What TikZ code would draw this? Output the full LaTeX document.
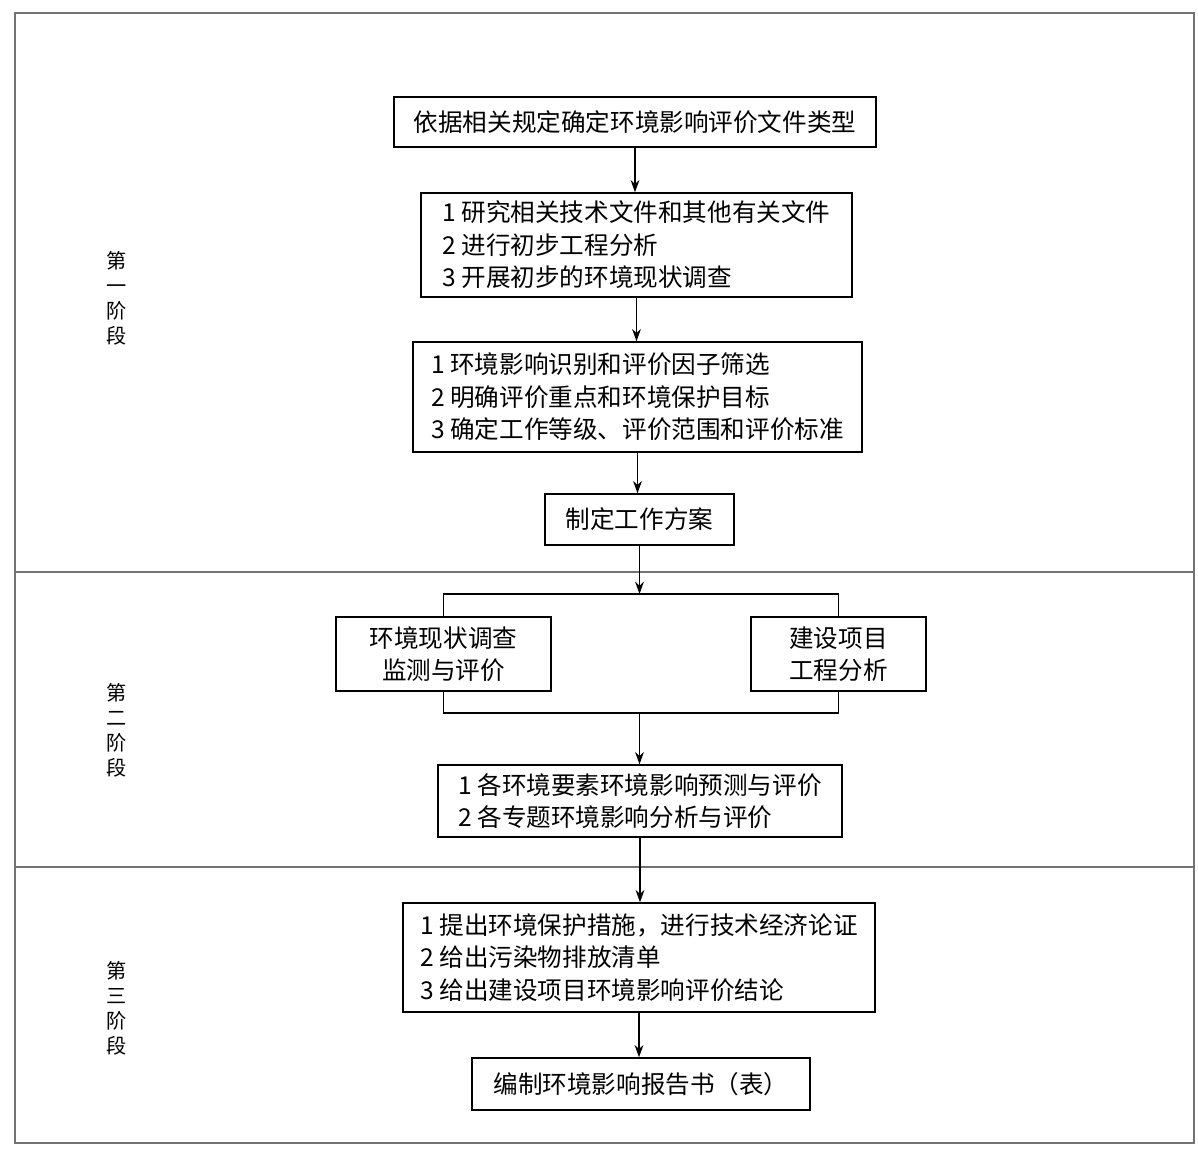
\documentclass[tikz,border=0pt]{standalone}
\usepackage{fontspec}
\usetikzlibrary{arrows.meta}
\newfontfamily\songti{Noto Sans CJK SC}
\newcommand{\flowbox}[6]{% name, left, top, right, bottom, text
	\node[flowbox, minimum width={(#4-#2)*0.02cm}, minimum height={(#5-#3)*0.02cm}]
		(#1) at ({(#2+#4)/2}, {(#3+#5)/2}) {#6};
}
\newcommand{\stagelabel}[3]{% name, y, text
	\node[stagetext] (#1) at (117, #2) {#3};
}

\tikzset{
	flowbox/.style={draw, line width=0.8pt, inner sep=0pt, align=left,
		font=\songti\fontsize{14}{18.5}\selectfont},
	stagetext/.style={align=center, inner sep=0pt,
		font=\songti\fontsize{11.5}{14.2}\selectfont},
	frameline/.style={draw=black!55, line width=0.7pt},
	flowarrow/.style={-{Stealth[length=7pt, width=5pt]}, line width=0.8pt},
	joinline/.style={line width=0.8pt}
}

\begin{document}
\begin{tikzpicture}[x=0.02cm, y=-0.02cm]

\useasboundingbox (0, 0) rectangle (1198, 1151);

\draw[frameline] (15, 13) rectangle (1194, 1143);
\draw[frameline] (15, 572) -- (1194, 572);
\draw[frameline] (15, 867) -- (1194, 867);

\stagelabel{stageone}{298}{第\\一\\阶\\段}
\stagelabel{stagetwo}{730}{第\\二\\阶\\段}
\stagelabel{stagethree}{1008}{第\\三\\阶\\段}

\flowbox{filetype}{394}{97}{876}{147}{依据相关规定确定环境影响评价文件类型}
\flowbox{study}{421}{193}{852}{297}{1 研究相关技术文件和其他有关文件\\2 进行初步工程分析\\3 开展初步的环境现状调查}
\flowbox{screen}{413}{342}{862}{452}{1 环境影响识别和评价因子筛选\\2 明确评价重点和环境保护目标\\3 确定工作等级、评价范围和评价标准}
\flowbox{plan}{545}{494}{734}{545}{制定工作方案}
\flowbox{survey}{336}{617}{551}{691}{\hfil 环境现状调查\hfil\\\hfil 监测与评价\hfil}
\flowbox{project}{751}{617}{926}{691}{\hfil 建设项目\hfil\\\hfil 工程分析\hfil}
\flowbox{predict}{438}{765}{842}{837}{1 各环境要素环境影响预测与评价\\2 各专题环境影响分析与评价}
\flowbox{measure}{403}{903}{875}{1012}{1 提出环境保护措施，进行技术经济论证\\2 给出污染物排放清单\\3 给出建设项目环境影响评价结论}
\flowbox{report}{472}{1058}{810}{1110}{编制环境影响报告书（表）}

\coordinate (split) at (plan.south |- 0,594);
\coordinate (merge) at (plan.south |- 0,713);

\draw[flowarrow] (filetype.south) -- (filetype.south |- study.north);
\draw[flowarrow] (study.south) -- (study.south |- screen.north);
\draw[flowarrow] (screen.south) -- (screen.south |- plan.north);
\draw[flowarrow] (plan.south) -- (split);
\draw[joinline] (survey.north) |- (split) -| (project.north);
\draw[joinline] (survey.south) |- (merge) -| (project.south);
\draw[flowarrow] (merge) -- (merge |- predict.north);
\draw[flowarrow] (predict.south) -- (predict.south |- measure.north);
\draw[flowarrow] (measure.south) -- (measure.south |- report.north);

\end{tikzpicture}
\end{document}
